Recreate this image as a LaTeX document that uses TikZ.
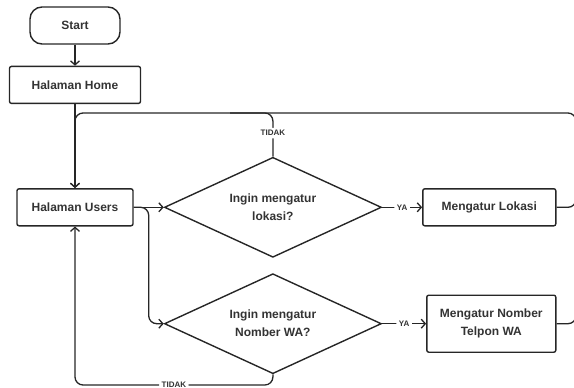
\documentclass[tikz,border=0pt]{standalone}
\usepackage{fontspec}
\setmainfont{Liberation Sans}
\usetikzlibrary{shapes.geometric, arrows.meta, positioning}

\begin{document}
\begin{tikzpicture}[
    x=1pt, y=-1pt,
    every node/.style={font=\fontsize{12}{18}\selectfont\bfseries, text=black!80},
    startstop/.style={rectangle, rounded corners=12pt, minimum width=90pt, minimum height=37pt, text centered, draw=black!85, line width=1.4pt},
    process/.style={rectangle, rounded corners=2pt, minimum height=37pt, text centered, draw=black!85, line width=1.4pt, align=center},
    decision/.style={diamond, aspect=2.17, minimum width=217pt, minimum height=100pt, inner sep=0pt, text centered, draw=black!85, line width=1.4pt, align=center},
    answer/.style={fill=white, inner sep=2.5pt, font=\fontsize{8}{9}\selectfont\bfseries},
    line/.style={line width=1.3pt, draw=black!85, rounded corners=8pt},
    arrow/.style={line, -{Straight Barb[length=4pt, width=9pt]}}
]
\useasboundingbox (0,0) rectangle (574,388);

% Start
\node (start) [startstop] at (75,25.5) {Start};
\node (home) [process, minimum width=131pt, below=21pt of start] {Halaman Home};
\node (users) [process, minimum width=116pt, below=84pt of home] {Halaman Users};

% Pilihan
\node (lokasiq) [decision, right=30pt of users] {Ingin mengatur\\lokasi?};
\node (waq) [decision, below=15pt of lokasiq] {Ingin mengatur\\Nomber WA?};
\node (lokasi) [process, minimum width=133pt, right=40pt of lokasiq] {Mengatur Lokasi};
\node (wa) [process, minimum width=129pt, minimum height=57pt, right=44pt of waq] {Mengatur Nomber\\Telpon WA};

\coordinate (top) at (576,113);
\coordinate (tidakend) at (230,113);
\coordinate (waup) at (576,250);
\coordinate (bottom) at (75,385);

% Arrows
\draw [arrow] (start) -- (home);
\draw [arrow] (home) -- (users);
\draw [arrow] (users) -- (lokasiq);
\draw [arrow] (users.east) -- ++(15,0) |- (waq.west);
\draw [arrow] (lokasiq) -- node[answer] {YA} (lokasi);
\draw [arrow] (waq) -- node[answer] {YA} (wa);
\draw [line] (lokasiq.north) |- node[answer, pos=0.27] {TIDAK} (tidakend);
\draw [arrow] (lokasi.east) -| (top) -| (users.north);
\draw [line] (wa.east) -| (waup);
\draw [arrow] (waq.south) |- node[answer, pos=0.75] {TIDAK} (bottom) -- (users.south);

\end{tikzpicture}
\end{document}
